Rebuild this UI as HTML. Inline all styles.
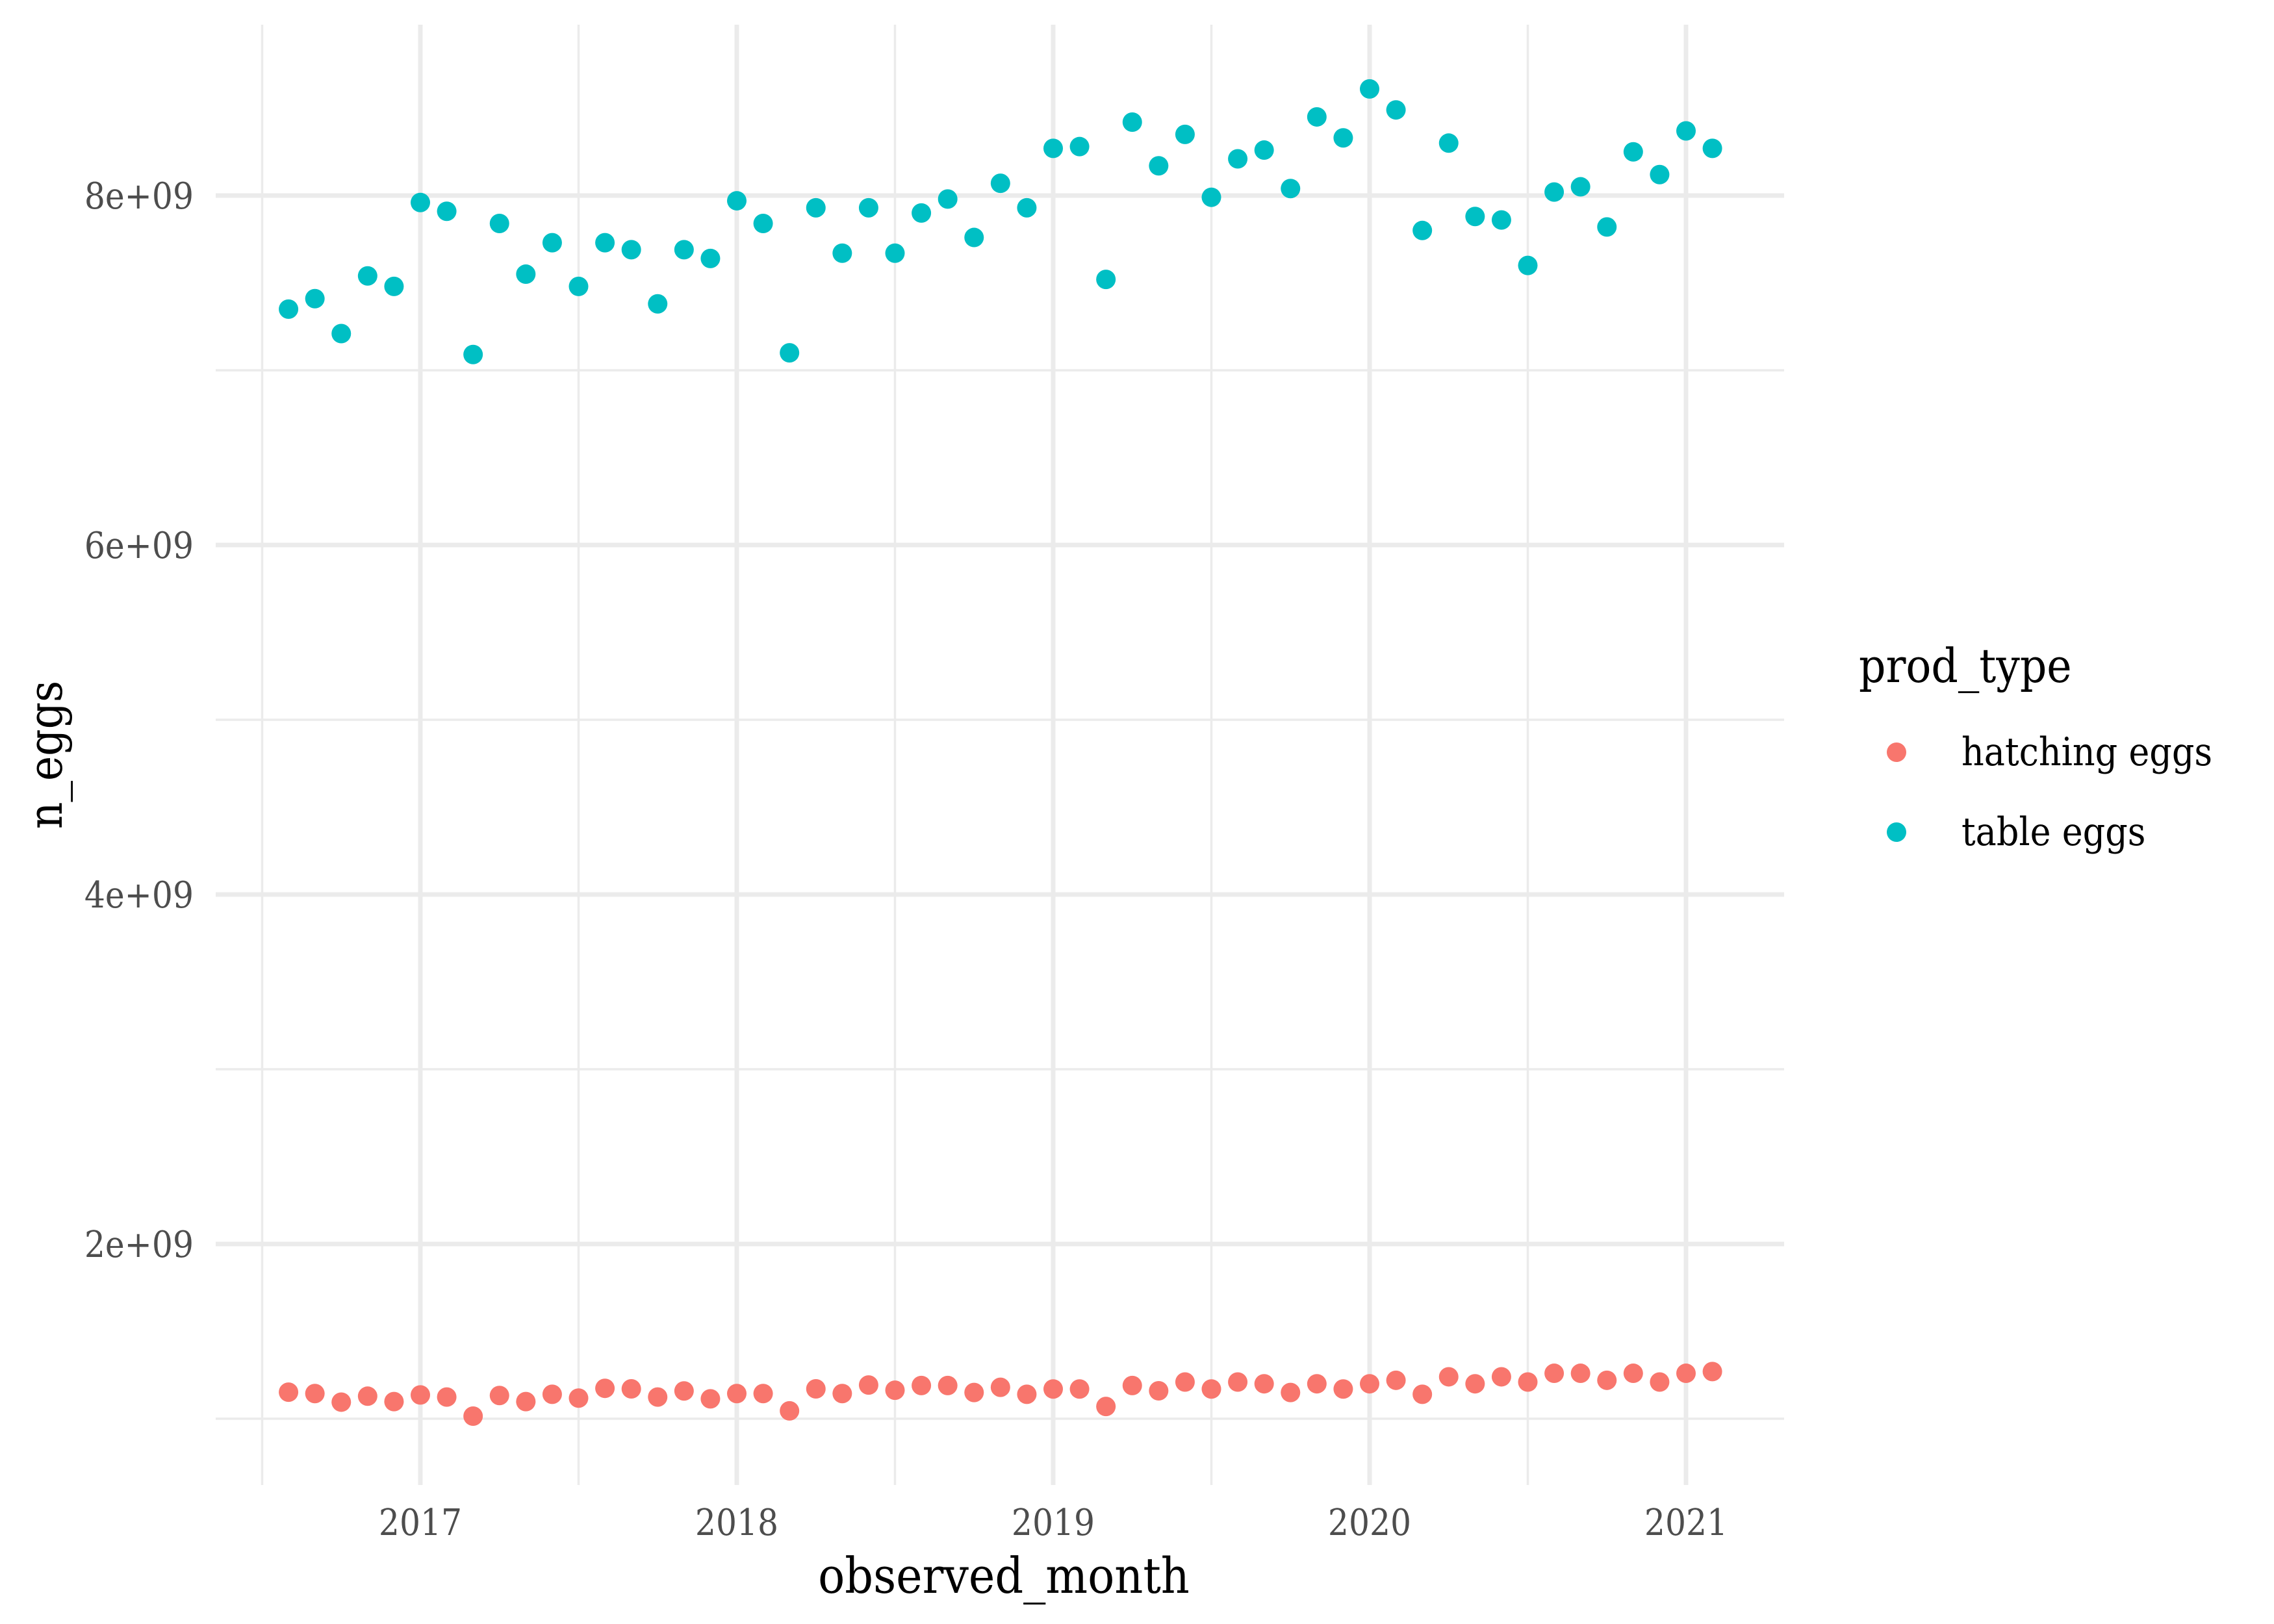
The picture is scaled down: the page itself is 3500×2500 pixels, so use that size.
<!DOCTYPE html>
<html><head><meta charset="utf-8">
<style>
html,body{margin:0;padding:0;background:#fff;}
svg{display:block;}
.tick{font-family:"DejaVu Serif","Liberation Serif",serif;font-stretch:condensed;font-size:56px;fill:#4d4d4d;}
.ttl{font-family:"DejaVu Serif","Liberation Serif",serif;font-stretch:condensed;font-size:72px;fill:#000;}
.xt{font-size:76px;}
.leg{font-family:"DejaVu Serif","Liberation Serif",serif;font-stretch:condensed;font-size:60px;fill:#000;}
</style></head>
<body>
<svg id="chart" width="3500" height="2500" viewBox="0 0 3500 2500" xmlns="http://www.w3.org/2000/svg">
<g id="grid"></g>
<g id="ticks"></g>
<g id="points"></g>
<text class="ttl xt" x="1545" y="2452" text-anchor="middle">observed_month</text>
<text class="ttl" transform="translate(95,1162) rotate(-90)" text-anchor="middle">n_eggs</text>
<g>
<text class="ttl" x="2861" y="1050">prod_type</text>
<circle cx="2919" cy="1158" r="15" fill="#F8766D"/>
<text class="leg" x="3019" y="1178">hatching eggs</text>
<circle cx="2919" cy="1281" r="15" fill="#00BFC4"/>
<text class="leg" x="3019" y="1301">table eggs</text>
</g>
</svg>
<script>
const startYear = 2016, startMonth = 8; // first observation Aug 2016
const tableEggs = [7.35,7.41,7.21,7.54,7.48,
7.96,7.91,7.09,7.84,7.55,7.73,7.48,7.73,7.69,7.38,7.69,7.64,
7.97,7.84,7.10,7.93,7.67,7.93,7.67,7.90,7.98,7.76,8.07,7.93,
8.27,8.28,7.52,8.42,8.17,8.35,7.99,8.21,8.26,8.04,8.45,8.33,
8.61,8.49,7.80,8.30,7.88,7.86,7.60,8.02,8.05,7.82,8.25,8.12,
8.37,8.27];
const hatchingEggs = [1.152,1.144,1.095,1.129,1.098,
1.136,1.124,1.015,1.133,1.098,1.140,1.118,1.174,1.171,1.124,1.159,1.114,
1.144,1.144,1.045,1.171,1.144,1.193,1.163,1.19,1.19,1.15,1.18,1.14,
1.17,1.17,1.07,1.19,1.16,1.21,1.17,1.21,1.20,1.15,1.20,1.17,
1.20,1.22,1.14,1.24,1.20,1.24,1.21,1.26,1.26,1.22,1.26,1.21,
1.26,1.27];
const yTicks = [2,4,6,8];
const yTickLabels = ["2e+09","4e+09","6e+09","8e+09"];
const yMinor = [1,3,5,7];
const xTicks = [2017,2018,2019,2020,2021];
const xMinor = [2016.5,2017.5,2018.5,2019.5,2020.5];

const PL=332, PR=2746, PT=38, PB=2286;
function xs(yearFrac){ return 647 + (yearFrac-2017)*487; }
function ys(v){ return 301 + (8 - v)*269; }
function monthPos(i){ const m = startMonth-1+i; return startYear + Math.floor(m/12) + (m%12)/12; }

const NS="http://www.w3.org/2000/svg";
const grid=document.getElementById('grid'), ticks=document.getElementById('ticks'), pts=document.getElementById('points');
function line(x1,y1,x2,y2,w){const l=document.createElementNS(NS,'line');l.setAttribute('x1',x1);l.setAttribute('y1',y1);l.setAttribute('x2',x2);l.setAttribute('y2',y2);l.setAttribute('stroke','#ebebeb');l.setAttribute('stroke-width',w);return l;}
yMinor.forEach(v=>{const l=line(PL,ys(v),PR,ys(v),3.5);

grid.appendChild(l);});
xMinor.forEach(v=>{const l=line(xs(v),PT,xs(v),PB,3.5);

grid.appendChild(l);});
yTicks.forEach((v,i)=>{const l=line(PL,ys(v),PR,ys(v),7);

grid.appendChild(l);
const t=document.createElementNS(NS,'text');t.setAttribute('class','tick');t.setAttribute('x',298);t.setAttribute('y',ys(v)+20);t.setAttribute('text-anchor','end');t.textContent=yTickLabels[i];

ticks.appendChild(t);});
xTicks.forEach(v=>{const l=line(xs(v),PT,xs(v),PB,7);

grid.appendChild(l);
const t=document.createElementNS(NS,'text');t.setAttribute('class','tick');t.setAttribute('x',xs(v));t.setAttribute('y',2363);t.setAttribute('text-anchor','middle');t.textContent=String(v);

ticks.appendChild(t);});
function dot(i,v,col,name){const c=document.createElementNS(NS,'circle');c.setAttribute('cx',xs(monthPos(i)));c.setAttribute('cy',ys(v));c.setAttribute('r',15);c.setAttribute('fill',col);

pts.appendChild(c);}
hatchingEggs.forEach((v,i)=>dot(i,v,'#F8766D','hatching-point'));
tableEggs.forEach((v,i)=>dot(i,v,'#00BFC4','table-point'));
</script>
</body></html>
